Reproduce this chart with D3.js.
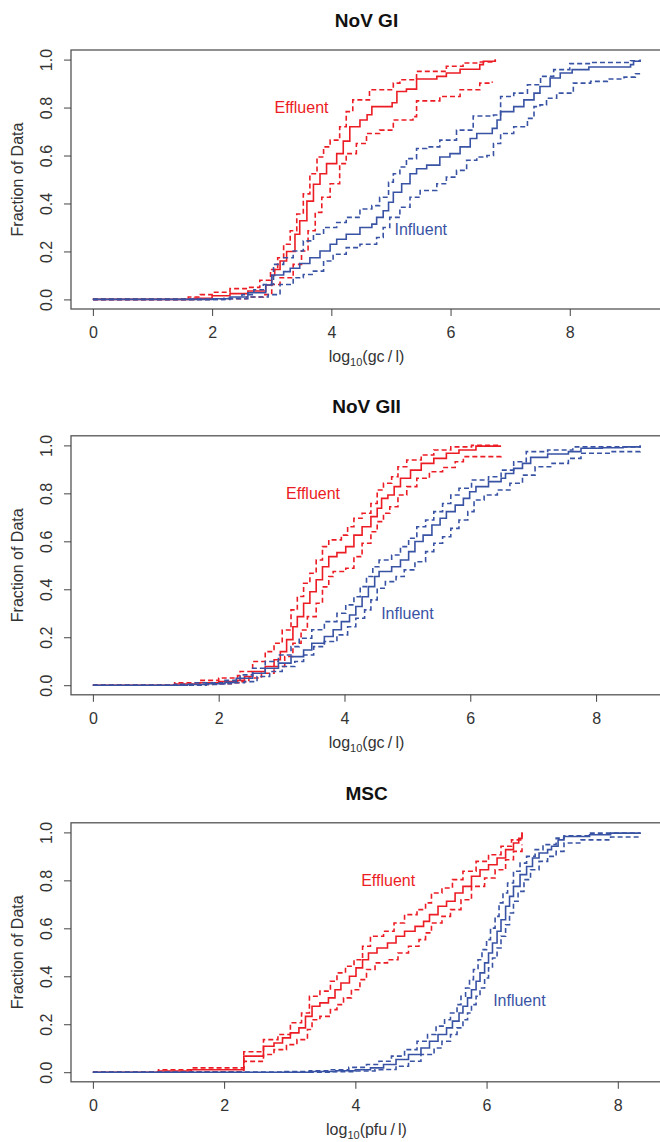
<!DOCTYPE html>
<html>
<head>
<meta charset="utf-8">
<script src="https://cdn.jsdelivr.net/npm/d3@7"></script>
<style>
  body { margin: 0; background: #fff; }
  svg text { font-family: "Liberation Sans", Arial, sans-serif; }
</style>
</head>
<body>
<div id="chart"></div>
<script>
// labels
var titles = ["NoV GI", "NoV GII", "MSC"];
var units = ["gc/l", "gc/l", "pfu/l"];
var xTicks = [0, 2, 4, 6, 8];
var yTicks = [0, 0.2, 0.4, 0.6, 0.8, 1.0];
var groupNames = ["Effluent", "Influent"];
// where the group labels sit, in data units [x, fraction]
var effLabelPos = [[3.5, 0.8], [3.5, 0.8], [4.5, 0.8]];
var infLabelPos = [[5.5, 0.29], [5.0, 0.3], [6.5, 0.3]];

// NoV GI : ecdf steps [log10 value, fraction]
var giEff = [[0,0],[1.7,0.005],[2.0,0.015],[2.3,0.024],[2.6,0.035],[2.9,0.06],[3.0,0.1],[3.05,0.125],[3.14,0.16],[3.25,0.2],[3.39,0.272],[3.47,0.328],[3.59,0.41],[3.7,0.48],[3.81,0.524],[3.92,0.566],[4.09,0.608],[4.2,0.66],[4.31,0.72],[4.48,0.748],[4.6,0.77],[4.68,0.804],[5.02,0.82],[5.1,0.867],[5.26,0.877],[5.43,0.919],[5.77,0.93],[5.93,0.944],[6.16,0.96],[6.49,0.979],[6.55,0.993],[6.75,1.0]];
var giEffUp = [[0,0],[1.6,0.01],[1.8,0.02],[2.0,0.03],[2.3,0.045],[2.6,0.05],[2.8,0.08],[2.98,0.125],[3.1,0.174],[3.2,0.23],[3.31,0.286],[3.42,0.356],[3.53,0.44],[3.64,0.524],[3.76,0.594],[3.87,0.636],[3.98,0.664],[4.14,0.72],[4.25,0.783],[4.36,0.832],[4.64,0.874],[5.04,0.902],[5.15,0.916],[5.43,0.951],[5.93,0.972],[6.21,0.986],[6.5,0.99],[6.75,1.0]];
var giEffLo = [[0,0],[2.0,0.003],[2.58,0.01],[2.86,0.02],[3.0,0.062],[3.14,0.09],[3.36,0.146],[3.5,0.202],[3.61,0.286],[3.73,0.363],[3.84,0.426],[3.98,0.482],[4.14,0.566],[4.25,0.608],[4.42,0.65],[4.59,0.692],[4.81,0.706],[5.04,0.748],[5.37,0.762],[5.43,0.828],[5.82,0.846],[6.16,0.874],[6.49,0.902],[6.7,0.909]];
var giInf = [[0,0],[2.0,0.003],[2.3,0.01],[2.6,0.028],[2.9,0.06],[3.0,0.102],[3.2,0.116],[3.31,0.13],[3.47,0.15],[3.64,0.174],[3.81,0.202],[3.98,0.23],[4.09,0.251],[4.25,0.272],[4.48,0.3],[4.68,0.314],[4.76,0.342],[4.87,0.37],[4.96,0.405],[5.04,0.447],[5.18,0.482],[5.32,0.524],[5.43,0.545],[5.6,0.56],[5.82,0.594],[5.99,0.608],[6.16,0.636],[6.33,0.671],[6.44,0.692],[6.7,0.713],[6.78,0.748],[6.84,0.783],[7.06,0.804],[7.23,0.832],[7.4,0.86],[7.5,0.888],[7.67,0.923],[7.84,0.944],[8.04,0.958],[8.32,0.969],[9.02,0.979],[9.07,0.993],[9.18,0.997]];
var giInfUp = [[0,0],[2.2,0.005],[2.5,0.02],[2.7,0.04],[2.86,0.062],[3.03,0.146],[3.2,0.174],[3.36,0.202],[3.53,0.244],[3.7,0.272],[3.87,0.3],[4.09,0.321],[4.25,0.342],[4.48,0.377],[4.68,0.391],[4.81,0.426],[4.96,0.489],[5.04,0.524],[5.15,0.552],[5.26,0.587],[5.43,0.629],[5.6,0.636],[5.82,0.664],[6.1,0.706],[6.38,0.765],[6.72,0.769],[6.84,0.846],[7.06,0.86],[7.29,0.895],[7.51,0.93],[7.73,0.958],[8.0,0.983],[8.35,0.988],[9.02,0.995],[9.18,1.0]];
var giInfLo = [[0,0],[2.3,0.003],[2.6,0.01],[2.94,0.02],[3.14,0.062],[3.36,0.09],[3.53,0.104],[3.7,0.118],[3.87,0.16],[4.03,0.188],[4.25,0.216],[4.48,0.23],[4.76,0.258],[4.87,0.3],[4.98,0.342],[5.15,0.384],[5.32,0.426],[5.49,0.454],[5.77,0.482],[5.93,0.51],[6.1,0.538],[6.27,0.58],[6.44,0.594],[6.61,0.6],[6.72,0.65],[6.84,0.692],[7.06,0.72],[7.29,0.755],[7.4,0.804],[7.5,0.811],[7.61,0.839],[7.78,0.86],[8.06,0.902],[8.35,0.909],[8.63,0.919],[8.91,0.927],[9.1,0.941],[9.18,0.941]];

// NoV GII
var giiEff = [[0,0],[1.3,0.005],[1.7,0.01],[2.0,0.015],[2.3,0.02],[2.41,0.036],[2.54,0.057],[2.74,0.078],[2.88,0.106],[2.98,0.14],[3.08,0.19],[3.18,0.244],[3.25,0.286],[3.35,0.342],[3.45,0.39],[3.55,0.44],[3.65,0.494],[3.75,0.536],[3.88,0.553],[4.02,0.578],[4.15,0.626],[4.28,0.661],[4.42,0.703],[4.52,0.738],[4.59,0.779],[4.69,0.793],[4.79,0.828],[4.89,0.863],[5.05,0.897],[5.22,0.925],[5.42,0.946],[5.62,0.967],[5.82,0.981],[6.09,0.997],[6.49,0.997]];
var giiEffUp = [[0,0],[1.3,0.01],[1.7,0.02],[2.0,0.03],[2.3,0.04],[2.34,0.057],[2.54,0.099],[2.74,0.14],[2.88,0.175],[3.01,0.23],[3.15,0.314],[3.25,0.37],[3.35,0.425],[3.45,0.467],[3.55,0.522],[3.65,0.578],[3.75,0.606],[3.95,0.626],[4.05,0.661],[4.15,0.696],[4.28,0.717],[4.42,0.758],[4.52,0.814],[4.62,0.842],[4.75,0.869],[4.85,0.911],[4.99,0.939],[5.22,0.96],[5.42,0.981],[5.69,0.994],[6.02,1.0],[6.49,1.0]];
var giiEffLo = [[0,0],[1.7,0.003],[1.9,0.006],[2.2,0.01],[2.34,0.015],[2.48,0.03],[2.68,0.05],[2.88,0.078],[3.05,0.12],[3.18,0.175],[3.31,0.23],[3.41,0.286],[3.55,0.342],[3.65,0.41],[3.75,0.453],[3.82,0.474],[4.02,0.488],[4.15,0.536],[4.28,0.592],[4.42,0.64],[4.52,0.682],[4.62,0.717],[4.72,0.744],[4.85,0.793],[4.99,0.828],[5.15,0.863],[5.35,0.89],[5.56,0.908],[5.76,0.932],[5.89,0.953],[6.49,0.956]];
var giiInf = [[0,0],[1.5,0.003],[1.8,0.006],[2.1,0.012],[2.28,0.029],[2.54,0.05],[2.74,0.071],[2.95,0.092],[3.15,0.119],[3.35,0.147],[3.48,0.175],[3.68,0.203],[3.82,0.231],[3.95,0.265],[4.08,0.293],[4.18,0.328],[4.28,0.369],[4.38,0.411],[4.48,0.453],[4.55,0.474],[4.75,0.494],[4.89,0.522],[5.02,0.557],[5.12,0.599],[5.25,0.626],[5.39,0.668],[5.52,0.696],[5.62,0.724],[5.76,0.751],[5.89,0.779],[5.99,0.807],[6.09,0.828],[6.29,0.849],[6.49,0.863],[6.56,0.883],[6.69,0.904],[6.83,0.925],[6.96,0.95],[7.23,0.964],[7.56,0.974],[7.76,0.988],[8.1,0.99],[8.43,0.994],[8.7,1.0]];
var giiInfUp = [[0,0],[1.3,0.004],[1.6,0.01],[2.1,0.02],[2.34,0.043],[2.54,0.071],[2.74,0.099],[2.95,0.126],[3.15,0.161],[3.28,0.196],[3.48,0.231],[3.68,0.265],[3.88,0.3],[4.02,0.335],[4.15,0.369],[4.25,0.411],[4.35,0.453],[4.45,0.494],[4.55,0.522],[4.75,0.543],[4.89,0.578],[5.02,0.613],[5.15,0.661],[5.29,0.689],[5.42,0.724],[5.56,0.758],[5.69,0.793],[5.82,0.821],[6.02,0.856],[6.29,0.869],[6.49,0.897],[6.69,0.932],[6.89,0.974],[7.23,0.981],[7.63,0.994],[8.7,1.0]];
var giiInfLo = [[0,0],[1.8,0.003],[2.0,0.006],[2.2,0.01],[2.41,0.015],[2.61,0.036],[2.81,0.057],[3.01,0.078],[3.21,0.099],[3.35,0.126],[3.51,0.161],[3.68,0.182],[3.88,0.21],[4.05,0.244],[4.18,0.279],[4.32,0.314],[4.42,0.356],[4.52,0.404],[4.65,0.432],[4.82,0.453],[4.95,0.481],[5.12,0.515],[5.29,0.557],[5.42,0.592],[5.56,0.619],[5.69,0.654],[5.82,0.689],[5.96,0.724],[6.06,0.772],[6.22,0.793],[6.43,0.814],[6.63,0.842],[6.83,0.876],[7.03,0.911],[7.3,0.925],[7.56,0.946],[7.76,0.967],[8.23,0.974],[8.7,0.981]];

// MSC
var mscEff = [[0,0],[1.0,0.005],[1.5,0.01],[2.3,0.067],[2.6,0.108],[2.76,0.122],[2.89,0.143],[3.01,0.164],[3.14,0.185],[3.24,0.233],[3.34,0.275],[3.46,0.289],[3.59,0.31],[3.69,0.344],[3.78,0.372],[3.91,0.4],[4.01,0.435],[4.11,0.469],[4.2,0.497],[4.33,0.518],[4.49,0.539],[4.62,0.567],[4.75,0.588],[4.91,0.608],[5.04,0.629],[5.13,0.657],[5.26,0.692],[5.39,0.713],[5.52,0.747],[5.64,0.775],[5.77,0.817],[5.9,0.844],[6.03,0.865],[6.16,0.893],[6.29,0.928],[6.41,0.956],[6.49,0.975],[6.54,1.0]];
var mscEffUp = [[0,0],[1.0,0.01],[1.5,0.018],[2.3,0.085],[2.6,0.136],[2.82,0.157],[3.01,0.206],[3.18,0.247],[3.3,0.317],[3.46,0.338],[3.62,0.379],[3.72,0.414],[3.85,0.442],[3.98,0.469],[4.11,0.525],[4.23,0.567],[4.43,0.588],[4.59,0.622],[4.75,0.657],[4.94,0.678],[5.07,0.706],[5.16,0.747],[5.32,0.768],[5.48,0.803],[5.64,0.838],[5.84,0.879],[6.03,0.907],[6.22,0.942],[6.38,0.969],[6.54,1.0]];
var mscEffLo = [[0,0],[1.5,0.002],[2.3,0.045],[2.6,0.074],[2.76,0.094],[2.95,0.115],[3.11,0.136],[3.27,0.178],[3.34,0.219],[3.46,0.233],[3.62,0.261],[3.72,0.282],[3.82,0.31],[3.94,0.344],[4.07,0.386],[4.17,0.428],[4.3,0.456],[4.49,0.469],[4.65,0.497],[4.81,0.525],[4.97,0.553],[5.07,0.581],[5.16,0.622],[5.32,0.65],[5.45,0.678],[5.61,0.719],[5.77,0.775],[5.97,0.81],[6.13,0.844],[6.29,0.886],[6.41,0.921],[6.54,0.949]];
var mscInf = [[0,0],[3.3,0.003],[3.7,0.006],[4.0,0.01],[4.23,0.018],[4.43,0.032],[4.62,0.053],[4.81,0.074],[5.0,0.101],[5.13,0.129],[5.26,0.157],[5.39,0.185],[5.48,0.213],[5.58,0.247],[5.64,0.275],[5.71,0.31],[5.77,0.344],[5.84,0.379],[5.9,0.414],[5.97,0.456],[6.03,0.497],[6.09,0.539],[6.16,0.588],[6.22,0.636],[6.29,0.692],[6.35,0.733],[6.41,0.775],[6.51,0.824],[6.61,0.858],[6.7,0.893],[6.8,0.914],[6.93,0.928],[6.99,0.942],[7.09,0.969],[7.18,0.983],[7.57,0.99],[7.89,0.997],[8.34,1.0]];
var mscInfUp = [[0,0],[2.9,0.003],[3.3,0.006],[3.6,0.01],[3.9,0.02],[4.17,0.032],[4.36,0.046],[4.55,0.067],[4.75,0.094],[4.94,0.129],[5.1,0.157],[5.23,0.192],[5.36,0.219],[5.45,0.247],[5.55,0.282],[5.61,0.317],[5.68,0.351],[5.74,0.386],[5.8,0.428],[5.87,0.469],[5.93,0.511],[6.0,0.553],[6.06,0.601],[6.13,0.65],[6.19,0.706],[6.25,0.747],[6.32,0.789],[6.41,0.838],[6.51,0.872],[6.61,0.9],[6.74,0.928],[6.86,0.949],[7.06,0.976],[7.18,0.986],[7.57,0.997],[8.34,1.0]];
var mscInfLo = [[0,0],[3.6,0.002],[4.0,0.005],[4.3,0.01],[4.43,0.011],[4.62,0.025],[4.81,0.046],[5.0,0.074],[5.2,0.101],[5.32,0.129],[5.45,0.157],[5.55,0.185],[5.64,0.219],[5.71,0.247],[5.77,0.282],[5.84,0.317],[5.9,0.351],[5.97,0.393],[6.03,0.435],[6.09,0.476],[6.16,0.518],[6.22,0.567],[6.29,0.615],[6.35,0.664],[6.41,0.713],[6.48,0.754],[6.57,0.803],[6.67,0.844],[6.8,0.879],[6.93,0.9],[7.06,0.921],[7.18,0.956],[7.44,0.969],[7.89,0.981],[8.34,0.983]];

var panels = [
  { eff: [giEff, giEffUp, giEffLo], inf: [giInf, giInfUp, giInfLo] },
  { eff: [giiEff, giiEffUp, giiEffLo], inf: [giiInf, giiInfUp, giiInfLo] },
  { eff: [mscEff, mscEffUp, mscEffLo], inf: [mscInf, mscInfUp, mscInfLo] }
];

var W = 660, H = 1142;
var red = "#ec1c24", blue = "#3953a4";
var left = 71, right = 662;
var tops = [50, 435.8, 822.8];
var ph = 259;

var svg = d3.select("#chart").append("svg")
  .attr("width", W)
  .attr("height", H);

var line = d3.line().curve(d3.curveStepAfter);

panels.forEach(function(p, i) {
  var top = tops[i], bottom = top + ph;
  var all = p.eff.concat(p.inf);
  var xmax = d3.max(all, function(s) { return d3.max(s, function(d) { return d[0]; }); });

  // R style: 4% padding on both ends
  var x = d3.scaleLinear().domain([-0.04 * xmax, 1.04 * xmax]).range([left, right]);
  var y = d3.scaleLinear().domain([-0.04, 1.04]).range([bottom, top]);
  line.x(function(d) { return x(d[0]); }).y(function(d) { return y(d[1]); });

  var g = svg.append("g");
  var mid = (left + right) / 2;

  g.append("text")
    .attr("x", mid).attr("y", top - 23)
    .attr("text-anchor", "middle")
    .attr("font-size", 19).attr("font-weight", "bold")
    .attr("fill", "#111")
    .text(titles[i]);

  // curves: solid estimate then dashed bounds
  [[p.eff, red], [p.inf, blue]].forEach(function(grp) {
    grp[0].forEach(function(s, k) {
      g.append("path")
        .attr("d", line(s))
        .attr("fill", "none")
        .attr("stroke", grp[1])
        .attr("stroke-width", 1.6)
        .attr("stroke-dasharray", k == 0 ? null : "5,3");
    });
  });

  g.append("rect")
    .attr("x", left).attr("y", top)
    .attr("width", right - left).attr("height", ph)
    .attr("fill", "none").attr("stroke", "#555").attr("stroke-width", 1.3);

  var xAxis = g.append("g")
    .attr("transform", "translate(0," + bottom + ")")
    .call(d3.axisBottom(x).tickValues(xTicks).tickFormat(d3.format("d")).tickSize(7).tickSizeOuter(0));
  xAxis.select(".domain").remove();
  xAxis.selectAll("line").attr("stroke", "#444");
  xAxis.selectAll("text")
    .attr("y", 29).attr("dy", 0)
    .attr("font-size", 16).attr("fill", "#333")
    .style("font-family", "Liberation Sans, Arial, sans-serif");

  var yAxis = g.append("g")
    .attr("transform", "translate(" + left + ",0)")
    .call(d3.axisLeft(y).tickValues(yTicks).tickFormat(d3.format(".1f")).tickSize(7).tickSizeOuter(0));
  yAxis.select(".domain").remove();
  yAxis.selectAll("line").attr("stroke", "#444");
  yAxis.selectAll("text")
    .attr("x", 0).attr("y", -19).attr("dy", 0)
    .attr("transform", "rotate(-90)")
    .style("text-anchor", "middle")
    .attr("font-size", 16).attr("fill", "#333")
    .style("font-family", "Liberation Sans, Arial, sans-serif");

  g.append("text")
    .attr("transform", "translate(23," + ((top + bottom) / 2) + ") rotate(-90)")
    .attr("text-anchor", "middle")
    .attr("font-size", 16).attr("fill", "#333")
    .text("Fraction of Data");

  var xt = g.append("text")
    .attr("x", mid).attr("y", bottom + 53)
    .attr("text-anchor", "middle")
    .attr("font-size", 16).attr("fill", "#333");
  xt.append("tspan").text("log");
  xt.append("tspan").attr("font-size", 11).attr("dy", 4).text("10");
  xt.append("tspan").attr("dy", -4).text("(" + units[i].replace("/", "\u2009/\u2009") + ")");

  g.append("text")
    .attr("x", x(effLabelPos[i][0])).attr("y", y(effLabelPos[i][1]))
    .attr("dy", "0.35em").attr("text-anchor", "middle")
    .attr("font-size", 16).attr("fill", red)
    .text(groupNames[0]);
  g.append("text")
    .attr("x", x(infLabelPos[i][0])).attr("y", y(infLabelPos[i][1]))
    .attr("dy", "0.35em").attr("text-anchor", "middle")
    .attr("font-size", 16).attr("fill", blue)
    .text(groupNames[1]);
});
</script>
</body>
</html>
